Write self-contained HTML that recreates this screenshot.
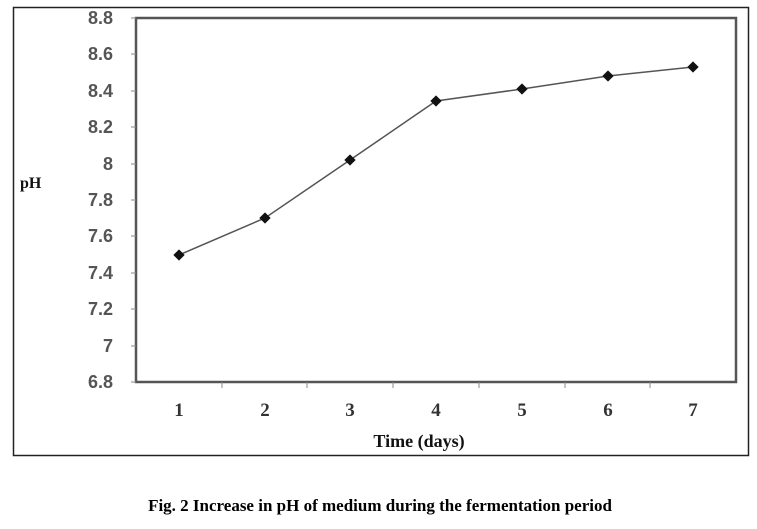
<!DOCTYPE html>
<html><head><style>body{margin:0;background:#fff}</style></head><body>
<svg width="757" height="524" xmlns="http://www.w3.org/2000/svg">
<rect x="13.5" y="7.5" width="735" height="448" fill="#fff" stroke="#222" stroke-width="1.5"/>
<rect x="136" y="18" width="600" height="364" fill="#fff" stroke="#555" stroke-width="2.5"/>
<g font-family="Liberation Sans, sans-serif" font-size="18" font-weight="bold" fill="#555" text-anchor="end">
<text x="113" y="24">8.8</text><text x="113" y="60">8.6</text><text x="113" y="97">8.4</text>
<text x="113" y="133">8.2</text><text x="113" y="170">8</text><text x="113" y="206">7.8</text>
<text x="113" y="242">7.6</text><text x="113" y="279">7.4</text><text x="113" y="315">7.2</text>
<text x="113" y="352">7</text><text x="113" y="388">6.8</text>
</g>
<g stroke="#888" stroke-width="1">
<line x1="131" y1="18" x2="136" y2="18"/><line x1="131" y1="54" x2="136" y2="54"/><line x1="131" y1="91" x2="136" y2="91"/><line x1="131" y1="127" x2="136" y2="127"/><line x1="131" y1="164" x2="136" y2="164"/><line x1="131" y1="200" x2="136" y2="200"/><line x1="131" y1="236" x2="136" y2="236"/><line x1="131" y1="273" x2="136" y2="273"/><line x1="131" y1="309" x2="136" y2="309"/><line x1="131" y1="346" x2="136" y2="346"/><line x1="131" y1="382" x2="136" y2="382"/>
<line x1="222" y1="382" x2="222" y2="388"/><line x1="307" y1="382" x2="307" y2="388"/><line x1="393" y1="382" x2="393" y2="388"/><line x1="479" y1="382" x2="479" y2="388"/><line x1="565" y1="382" x2="565" y2="388"/><line x1="650" y1="382" x2="650" y2="388"/>
</g>
<g font-family="Liberation Serif, serif" font-size="19" font-weight="bold" fill="#333" text-anchor="middle">
<text x="179" y="416">1</text><text x="265" y="416">2</text><text x="350" y="416">3</text><text x="436" y="416">4</text><text x="522" y="416">5</text><text x="608" y="416">6</text><text x="693" y="416">7</text>
</g>
<polyline fill="none" stroke="#555" stroke-width="1.5" points="179,255 265,218 350,160 436,101 522,89 608,76 693,67"/>
<g fill="#111">
<rect x="-4" y="-4" width="8" height="8" transform="translate(179,255) rotate(45)"/>
<rect x="-4" y="-4" width="8" height="8" transform="translate(265,218) rotate(45)"/>
<rect x="-4" y="-4" width="8" height="8" transform="translate(350,160) rotate(45)"/>
<rect x="-4" y="-4" width="8" height="8" transform="translate(436,101) rotate(45)"/>
<rect x="-4" y="-4" width="8" height="8" transform="translate(522,89) rotate(45)"/>
<rect x="-4" y="-4" width="8" height="8" transform="translate(608,76) rotate(45)"/>
<rect x="-4" y="-4" width="8" height="8" transform="translate(693,67) rotate(45)"/>
</g>
<text x="20" y="188" font-family="Liberation Serif, serif" font-weight="bold" font-size="16" fill="#111">pH</text>
<text x="419" y="447" font-family="Liberation Serif, serif" font-weight="bold" font-size="18" fill="#111" text-anchor="middle">Time (days)</text>
<text x="380" y="511" font-family="Liberation Serif, serif" font-weight="bold" font-size="17" fill="#000" text-anchor="middle">Fig. 2 Increase in pH of medium during the fermentation period</text>
</svg>
</body></html>
